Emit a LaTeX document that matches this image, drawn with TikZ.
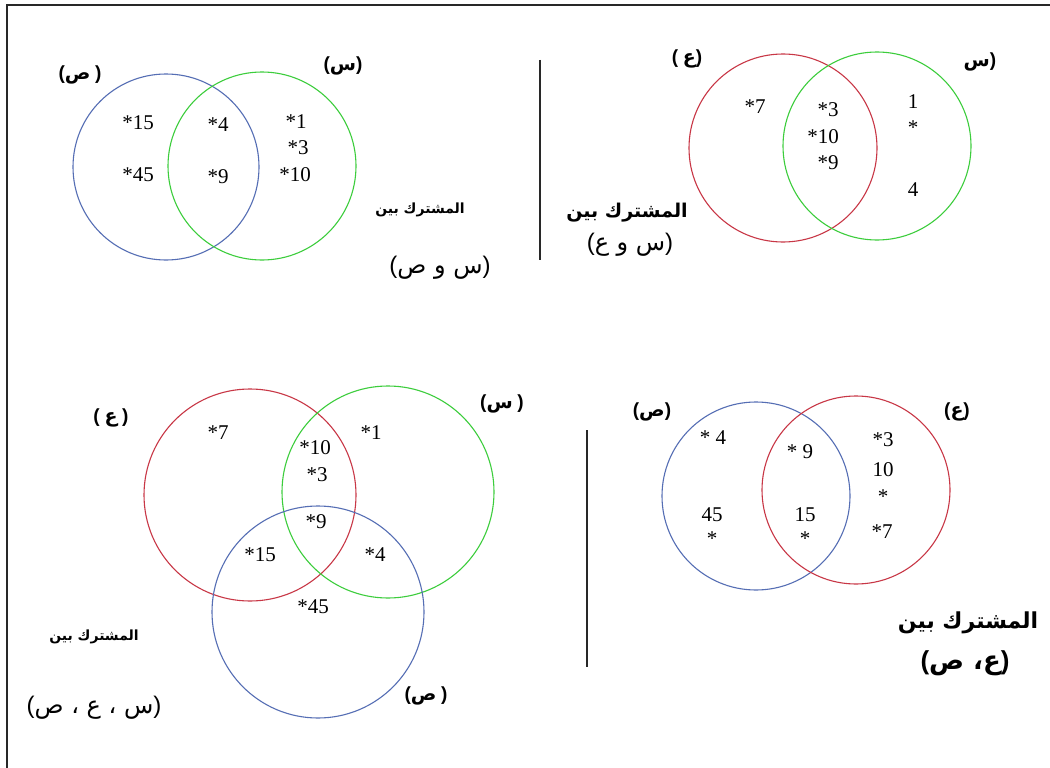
\documentclass[tikz,border=0pt]{standalone}
\usepackage{fontspec}
\setmainfont{Liberation Serif}
\newfontfamily\arabicfont[Script=Arabic]{DejaVu Sans}
\newfontfamily\parfont{Liberation Sans}
\newcommand\lpar{{\parfont(}}
\newcommand\rpar{{\parfont)}}
\TeXXeTstate=1
\definecolor{vblue}{RGB}{85,110,180}
\definecolor{vgreen}{RGB}{60,205,60}
\definecolor{vred}{RGB}{200,55,70}
\definecolor{frame}{RGB}{40,40,40}
\begin{document}
\begin{tikzpicture}[x=1pt,y=-1pt,
  venn/.style={circle,draw,line width=1.1pt,inner sep=0pt,outer sep=0pt},
  num/.style={font=\fontsize{21}{23}\selectfont,inner sep=0pt},
  setlbl/.style={font=\fontsize{19}{21}\selectfont\bfseries,inner sep=0pt},
  title/.style={font=\fontsize{14}{16}\selectfont\bfseries,inner sep=0pt},
  bigtitle/.style={font=\fontsize{19}{21}\selectfont\bfseries,inner sep=0pt},
  bigtitleB/.style={font=\fontsize{22}{24}\selectfont\bfseries,inner sep=0pt},
  pair/.style={font=\fontsize{24}{26}\selectfont,inner sep=0pt},
  bigpair/.style={font=\fontsize{26}{28}\selectfont\bfseries,inner sep=0pt},
  sep/.style={line width=1.4pt,draw=frame}]
\useasboundingbox (0,0) rectangle (1050,768);
\fill[white] (0,0) rectangle (1050,768);
% frame
\coordinate (f1) at (7,768);
\coordinate (f2) at (7,5);
\coordinate (f3) at (1050,5);
\draw[line width=1.6pt,draw=frame] (f1) -- (f2) -- (f3);

% ---------- top-left: (s) and (sad)
\node[venn,draw=vblue,minimum size=186pt] (tlB) at (166,167) {};
\node[venn,draw=vgreen,minimum size=188pt] (tlG) at (262,166) {};
\node[setlbl] (tlBl) at (80,75) {\lpar{\arabicfont\beginR ص\endR}\ \rpar};
\node[setlbl] (tlGl) at (343,66) {\lpar{\arabicfont\beginR س\endR}\rpar};
\node[num] (tl15) at (138,123) {*15};
\node[num] (tl45) at (138,175) {*45};
\node[num] (tl4) at (218,125) {*4};
\node[num] (tl9) at (218,177) {*9};
\node[num] (tl1) at (296,122) {*1};
\node[num] (tl3) at (298,148) {*3};
\node[num] (tl10) at (295,175) {*10};
\node[title] (tlT) at (420,210) {\arabicfont\beginR المشترك بين\endR};
\node[pair] (tlP) at (440,268) {\lpar{\arabicfont\beginR س و ص\endR}\rpar};

% ---------- top-right: (s) and (ain)
\coordinate (v1a) at (540,60);
\coordinate (v1b) at (540,260);
\draw[sep] (v1a) -- (v1b);
\node[venn,draw=vred,minimum size=188pt] (trR) at (783,148) {};
\node[venn,draw=vgreen,minimum size=188pt] (trG) at (877,146) {};
\node[setlbl] (trRl) at (687,59) {\lpar\ {\arabicfont\beginR ع\endR}\rpar};
\node[setlbl] (trGl) at (980,62) {{\arabicfont\beginR س\endR}\rpar};
\node[num] (tr7) at (755,107) {*7};
\node[num] (tr3) at (828,110) {*3};
\node[num] (tr10) at (823,137) {*10};
\node[num] (tr9) at (828,163) {*9};
\node[num] (tr1) at (913,102) {1};
\node[num] (trs) at (913,128) {*};
\node[num] (tr4) at (913,190) {4};
\node[bigtitle] (trT) at (627,213) {\arabicfont\beginR المشترك بين\endR};
\node[pair] (trP) at (630,245) {\lpar{\arabicfont\beginR س و ع\endR}\rpar};

% ---------- bottom-left: three sets
\node[venn,draw=vred,minimum size=212pt] (blR) at (250,495) {};
\node[venn,draw=vgreen,minimum size=212pt] (blG) at (388,492) {};
\node[venn,draw=vblue,minimum size=212pt] (blB) at (318,612) {};
\node[setlbl] (blRl) at (111,418) {\lpar\ {\arabicfont\beginR ع\endR}\ \rpar};
\node[setlbl] (blGl) at (502,404) {\lpar{\arabicfont\beginR س\endR}\ \rpar};
\node[setlbl] (blBl) at (426,696) {\lpar{\arabicfont\beginR ص\endR}\ \rpar};
\node[num] (bl7) at (218,433) {*7};
\node[num] (bl1) at (371,433) {*1};
\node[num] (bl10) at (315,448) {*10};
\node[num] (bl3) at (317,475) {*3};
\node[num] (bl9) at (316,522) {*9};
\node[num] (bl15) at (260,555) {*15};
\node[num] (bl4) at (375,555) {*4};
\node[num] (bl45) at (313,607) {*45};
\node[title] (blT) at (94,637) {\arabicfont\beginR المشترك بين\endR};
\node[pair] (blP) at (94,708) {\lpar{\arabicfont\beginR س ، ع ، ص\endR}\rpar};

% ---------- bottom-right: (ain) and (sad)
\coordinate (v2a) at (587,430);
\coordinate (v2b) at (587,667);
\draw[sep] (v2a) -- (v2b);
\node[venn,draw=vblue,minimum size=188pt] (brB) at (756,496) {};
\node[venn,draw=vred,minimum size=188pt] (brR) at (856,490) {};
\node[setlbl] (brBl) at (652,412) {\lpar{\arabicfont\beginR ص\endR}\rpar};
\node[setlbl] (brRl) at (957,412) {\lpar{\arabicfont\beginR ع\endR}\rpar};
\node[num] (br4) at (713,438) {* 4};
\node[num] (br9) at (800,452) {* 9};
\node[num] (br3) at (883,440) {*3};
\node[num] (br10) at (883,470) {10};
\node[num] (brs1) at (883,497) {*};
\node[num] (br7) at (882,532) {*7};
\node[num] (br45) at (712,515) {45};
\node[num] (brs2) at (712,539) {*};
\node[num] (br15) at (805,515) {15};
\node[num] (brs3) at (805,539) {*};
\node[bigtitleB] (brT) at (968,623) {\arabicfont\beginR المشترك بين\endR};
\node[bigpair] (brP) at (965,663) {\lpar{\arabicfont\beginR ع، ص\endR}\rpar};
\end{tikzpicture}
\end{document}
